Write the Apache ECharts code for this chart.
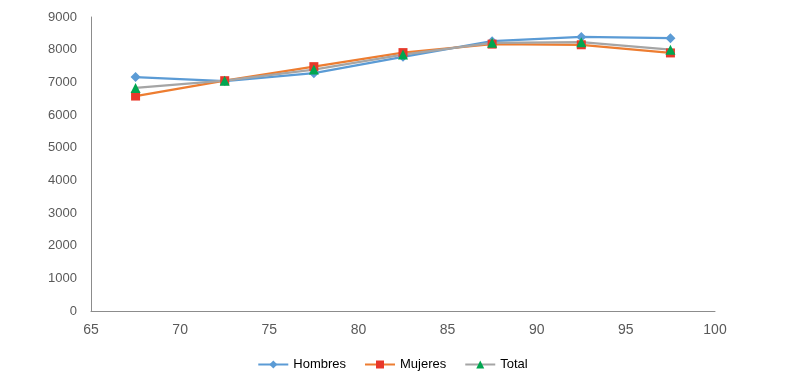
<!DOCTYPE html>
<html><head><meta charset="utf-8">
<script src="https://cdn.jsdelivr.net/npm/echarts@6/dist/echarts.min.js"></script>
<style>html,body{margin:0;padding:0;background:#fff}#c{width:785px;height:384px}</style>
</head><body><div id="c"></div>
<script>
const ages = [67.5, 72.5, 77.5, 82.5, 87.5, 92.5, 97.5];
const hombres = [7160, 7040, 7280, 7780, 8260, 8390, 8350];
const mujeres = [6580, 7050, 7480, 7910, 8170, 8150, 7900];
const total = [6830, 7050, 7390, 7850, 8210, 8230, 8000];
const xTicks = [65, 100, 5];
const yTicks = [0, 9000, 1000];

const pair = (vals) => ages.map((a, i) => [a, vals[i]]);
const font = 'Liberation Sans, Arial, sans-serif';
const chart = echarts.init(document.getElementById('c'));
chart.setOption({
  animation: false,
  grid: {left: 91, right: 70, top: 17, bottom: 73},
  xAxis: {type: 'value', min: xTicks[0], max: xTicks[1], interval: xTicks[2],
    axisLine: {show: true, lineStyle: {color: '#8c8c8c'}}, axisTick: {show: false},
    splitLine: {show: false},
    axisLabel: {color: '#595959', fontSize: 14, fontFamily: font, margin: 12, formatter: v => String(v)}},
  yAxis: {type: 'value', min: yTicks[0], max: yTicks[1], interval: yTicks[2],
    axisLine: {show: true, lineStyle: {color: '#8c8c8c'}}, axisTick: {show: false},
    splitLine: {show: false},
    axisLabel: {color: '#595959', fontSize: 13, fontFamily: font, margin: 14, formatter: v => String(v)}},
  legend: {bottom: 8, left: 'center', itemWidth: 30, itemHeight: 10, itemGap: 18,
    textStyle: {color: '#000', fontSize: 13, fontFamily: font}},
  series: [
    {name: 'Hombres', type: 'line', data: pair(hombres), symbol: 'diamond', symbolSize: 10,
      lineStyle: {color: '#5B9BD5', width: 2.25}, itemStyle: {color: '#5B9BD5'}},
    {name: 'Mujeres', type: 'line', data: pair(mujeres), symbol: 'rect', symbolSize: 9,
      lineStyle: {color: '#ED7D31', width: 2.25}, itemStyle: {color: '#E8382A'}},
    {name: 'Total', type: 'line', data: pair(total), symbol: 'triangle', symbolSize: 10,
      lineStyle: {color: '#A5A5A5', width: 2.25}, itemStyle: {color: '#00A650'}}
  ]
});
</script></body></html>
